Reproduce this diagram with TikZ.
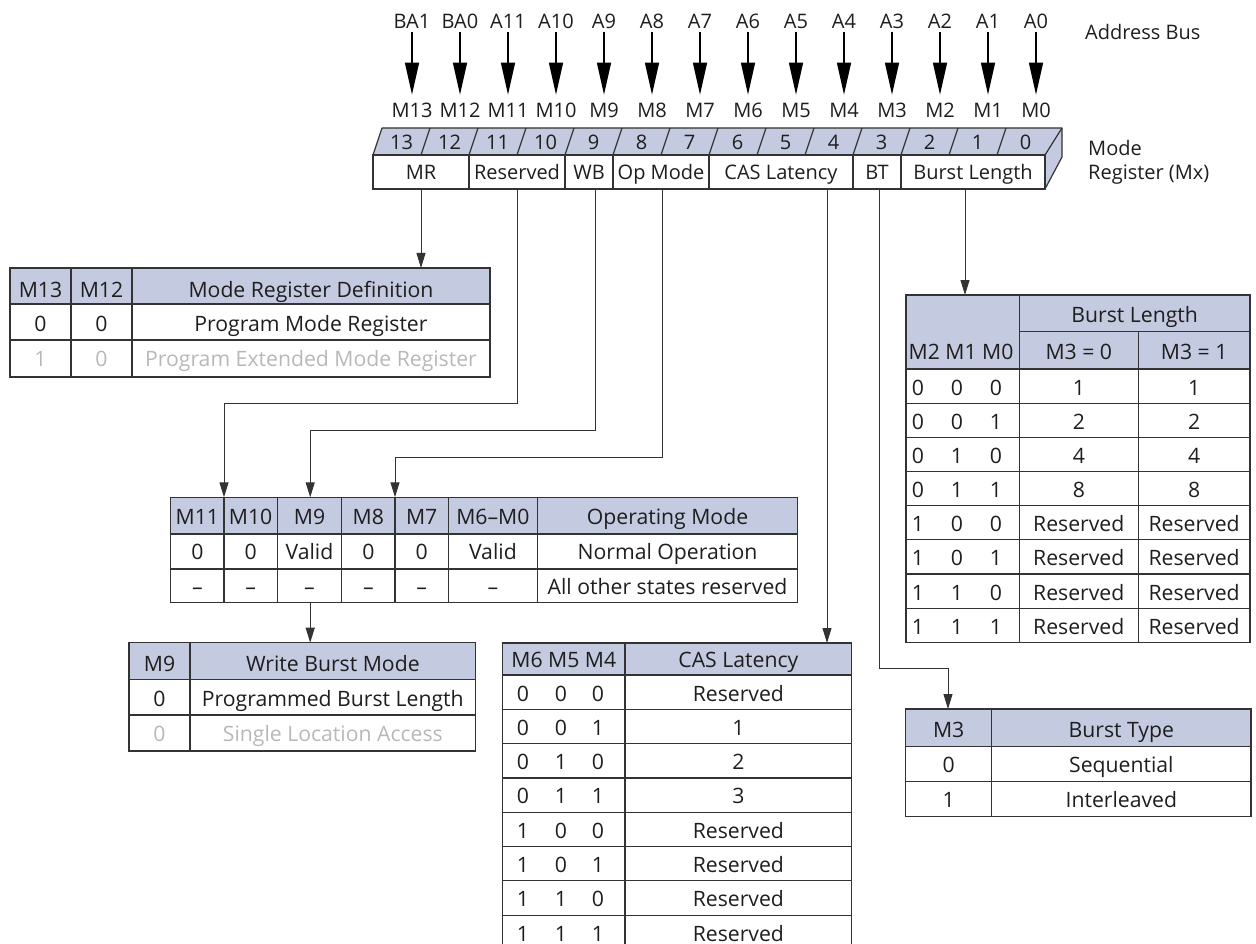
\documentclass[tikz,border=0pt]{standalone}
\usepackage{fontspec}
\setmainfont{Open Sans}
\usetikzlibrary{arrows.meta,calc}
\definecolor{hdr}{HTML}{C4CAE0}
\definecolor{ln}{HTML}{333333}
\definecolor{tx}{HTML}{1E1E1E}
\definecolor{gr}{HTML}{B8B8B8}
\begin{document}
\begin{tikzpicture}[x=1pt,y=-1pt,
 frame/.style={draw=ln, line width=1.2pt, inner sep=0pt, outer sep=0pt, anchor=north west},
 grid/.style={draw=ln, line width=1.2pt},
 t/.style={inner sep=0pt, text=tx, font=\fontsize{20}{24}\selectfont, text height=14.3pt, text depth=0pt},
 tt/.style={inner sep=0pt, text=tx, font=\fontsize{21.2}{25}\selectfont, text height=15.1pt, text depth=0pt},
 tg/.style={tt, text=gr},
 regcell/.style={frame, fill=white, minimum height=34, t},
 conn/.style={draw=ln, line width=1pt},
 carrow/.style={conn, -{Triangle[length=15pt,width=9pt]}},
 bus/.style={draw=black, line width=1.4pt, -{Triangle[length=32pt,width=14pt]}}]
\useasboundingbox (0,0) rectangle (1256,944);

% ---------------- address bus ----------------
\foreach \i/\a/\m in {0/BA1/M13,1/BA0/M12,2/A11/M11,3/A10/M10,4/A9/M9,5/A8/M8,6/A7/M7,7/A6/M6,8/A5/M5,9/A4/M4,10/A3/M3,11/A2/M2,12/A1/M1,13/A0/M0}{
  \node[t] (a\i) at (412+48*\i,21.5) {\a};
  \node[t] (m\i) at (412+48*\i,110) {\m};
  \draw[bus] ([yshift=-3.5pt]a\i.south) -- ([yshift=8pt]m\i.north);
}
\node[t, anchor=west] (addr) at (1085,32) {Address Bus};
\node[t, anchor=west] (mode1) at (1088,148) {Mode};
\node[t, anchor=west] (mode2) at (1088,172) {Register (Mx)};

% ---------------- mode register ----------------
\fill[hdr] (373,155) -- (382,128) -- (1062,128) -- (1045,155) -- cycle;
\fill[hdr] (1045,155) -- (1062,128) -- (1062,157) -- (1045,189) -- cycle;
\draw[grid, line join=round] (373,155) -- (382,128) -- (1062,128) -- (1062,157) -- (1045,189);
\draw[grid] (1045,155) -- (1062,128);
\foreach \k in {1,...,13}{\draw[grid] (373+48*\k,155) -- (382+48*\k,128);}
\foreach \k/\n in {0/13,1/12,2/11,3/10,4/9,5/8,6/7,7/6,8/5,9/4,10/3,11/2,12/1,13/0}{
  \node[t] (bit\n) at (373+48*\k+28.5,142) {\n};
}
\node[regcell, minimum width=96] (rMR) at (373,155) {MR};
\node[regcell, minimum width=96] (rRes) at (469,155) {Reserved};
\node[regcell, minimum width=48] (rWB) at (565,155) {WB};
\node[regcell, minimum width=96] (rOp) at (613,155) {Op Mode};
\node[regcell, minimum width=144] (rCAS) at (709,155) {CAS Latency};
\node[regcell, minimum width=48] (rBT) at (853,155) {BT};
\node[regcell, minimum width=144] (rBL) at (901,155) {Burst Length};

% ---------------- MR table ----------------
\fill[hdr] (10,268) rectangle (490,304);
\node[frame, minimum width=480, minimum height=109] (tMR) at (10,268) {};
\draw[grid] (10,304) -- (490,304) (10,340) -- (490,340) (71,268) -- (71,377) (132,268) -- (132,377);
\node[tt] (mrh1) at (40.5,290) {M13};
\node[tt] (mrh2) at (101.5,290) {M12};
\node[tt] (mrh3) at (311,290) {Mode Register Definition};
\node[tt] (mra1) at (40.5,324) {0};
\node[tt] (mra2) at (101.5,324) {0};
\node[tt] (mra3) at (311,324) {Program Mode Register};
\node[tg] (mrb1) at (40.5,359) {1};
\node[tg] (mrb2) at (101.5,359) {0};
\node[tg] (mrb3) at (311,359) {Program Extended Mode Register};

% ---------------- Operating mode table ----------------
\fill[hdr] (170.7,497.3) rectangle (797.6,534);
\node[frame, minimum width=626.9, minimum height=105] (tOp) at (170.7,497.3) {};
\draw[grid] (170.7,534) -- (797.6,534) (170.7,569) -- (797.6,569);
\foreach \x in {224,277.3,341.7,395,448.3,537.5}{\draw[grid] (\x,497.3) -- (\x,602.3);}
\foreach \x/\h/\a/\b [count=\c] in {197.35/M11/0/–, 250.65/M10/0/–, 309.5/M9/Valid/–, 368.35/M8/0/–, 421.65/M7/0/–, 492.9/M6–M0/Valid/–, 667.55/Operating Mode/Normal Operation/All other states reserved}{
  \node[tt] (oph\c) at (\x,517) {\h};
  \node[tt] (opa\c) at (\x,552) {\a};
  \node[tt] (opb\c) at (\x,586.5) {\b};
}

% ---------------- Write burst table ----------------
\fill[hdr] (129,642.7) rectangle (475.7,679.3);
\node[frame, minimum width=346.7, minimum height=108.3] (tWB) at (129,642.7) {};
\draw[grid] (129,679.3) -- (475.7,679.3) (129,715) -- (475.7,715) (190,642.7) -- (190,751);
\node[tt] (wbh1) at (159.5,664) {M9};
\node[tt] (wbh2) at (332.85,664) {Write Burst Mode};
\node[tt] (wba1) at (159.5,699) {0};
\node[tt] (wba2) at (332.85,699) {Programmed Burst Length};
\node[tg] (wbb1) at (159.5,734) {0};
\node[tg] (wbb2) at (332.85,734) {Single Location Access};

% ---------------- CAS latency table ----------------
\fill[hdr] (502.7,643) rectangle (851.7,675);
\node[frame, minimum width=349, minimum height=306.4] (tCAS) at (502.7,643) {};
\draw[grid] (502.7,675) -- (851.7,675) (625,643) -- (625,949.4);
\foreach \r in {1,...,7}{\draw[grid] (502.7,675+34.3*\r) -- (851.7,675+34.3*\r);}
\node[tt] (cash1) at (563.85,660) {M6 M5 M4};
\node[tt] (cash2) at (738.35,660) {CAS Latency};
\foreach \r/\a/\b/\c/\v in {0/0/0/0/Reserved,1/0/0/1/1,2/0/1/0/2,3/0/1/1/3,4/1/0/0/Reserved,5/1/0/1/Reserved,6/1/1/0/Reserved,7/1/1/1/Reserved}{
  \node[tt] (casa\r) at (523,675+34.3*\r+18.5) {\a};
  \node[tt] (casb\r) at (561,675+34.3*\r+18.5) {\b};
  \node[tt] (casc\r) at (598,675+34.3*\r+18.5) {\c};
  \node[tt] (casv\r) at (738.35,675+34.3*\r+18.5) {\v};
}

% ---------------- Burst length table ----------------
\fill[hdr] (906,295) rectangle (1250,369);
\node[frame, minimum width=344, minimum height=347.3] (tBL) at (906,295) {};
\draw[grid] (1019.3,331.7) -- (1250,331.7) (906,369) -- (1250,369) (1019.3,295) -- (1019.3,642.3) (1138.3,331.7) -- (1138.3,642.3);
\foreach \r in {1,...,7}{\draw[grid] (906,369+34.16*\r) -- (1250,369+34.16*\r);}
\node[tt] (blh1) at (1134.65,314.5) {Burst Length};
\node[tt] (blh2) at (961,352) {M2 M1 M0};
\node[tt] (blh3) at (1078.8,352) {M3 = 0};
\node[tt] (blh4) at (1194.15,352) {M3 = 1};
\foreach \r/\a/\b/\c/\v in {0/0/0/0/1,1/0/0/1/2,2/0/1/0/4,3/0/1/1/8,4/1/0/0/Reserved,5/1/0/1/Reserved,6/1/1/0/Reserved,7/1/1/1/Reserved}{
  \node[tt] (bla\r) at (918,369+34.16*\r+18.5) {\a};
  \node[tt] (blb\r) at (957,369+34.16*\r+18.5) {\b};
  \node[tt] (blc\r) at (996,369+34.16*\r+18.5) {\c};
  \node[tt] (blv\r) at (1078.8,369+34.16*\r+18.5) {\v};
  \node[tt] (blw\r) at (1194.15,369+34.16*\r+18.5) {\v};
}

% ---------------- Burst type table ----------------
\fill[hdr] (905.7,709) rectangle (1251,746.7);
\node[frame, minimum width=345.3, minimum height=107.5] (tBT) at (905.7,709) {};
\draw[grid] (905.7,746.7) -- (1251,746.7) (905.7,781.7) -- (1251,781.7) (991.7,709) -- (991.7,816.5);
\node[tt] (bth1) at (948.7,730) {M3};
\node[tt] (bth2) at (1121.35,730) {Burst Type};
\node[tt] (bta1) at (948.7,765) {0};
\node[tt] (bta2) at (1121.35,765) {Sequential};
\node[tt] (btb1) at (948.7,800) {1};
\node[tt] (btb2) at (1121.35,800) {Interleaved};

% ---------------- connectors ----------------
\coordinate (sWB) at ($(rWB.south)+(6,0)$);
\coordinate (sOp) at ($(rOp.south)+(1,0)$);
\coordinate (sCAS) at ($(rCAS.south)+(46,0)$);
\coordinate (sBT) at ($(rBT.south)+(2,0)$);
\coordinate (sBL) at ($(rBL.south)+(-8,0)$);
\coordinate (iOp1) at ($(tOp.north west)+(53.3,0)$);
\coordinate (iOp2) at ($(tOp.north west)+(139.5,0)$);
\coordinate (iOp3) at ($(tOp.north west)+(224.3,0)$);
\coordinate (oOp) at ($(tOp.south west)+(139.5,0)$);
\coordinate (iBT) at ($(tBT.north west)+(42.3,0)$);

\draw[carrow] (rMR.south) -- (rMR.south |- tMR.north);
\draw[carrow] (rRes.south) -- ++(0,214.3) -| (iOp1);
\draw[carrow] (sWB) -- ++(0,241.7) -| (iOp2);
\draw[carrow] (sOp) -- ++(0,268.7) -| (iOp3);
\draw[carrow] (oOp) -- (oOp |- tWB.north);
\draw[carrow] (sCAS) -- (sCAS |- tCAS.north);
\draw[carrow] (sBT) -- ++(0,479) -| (iBT);
\draw[carrow] (sBL) -- (sBL |- tBL.north);
\end{tikzpicture}
\end{document}
